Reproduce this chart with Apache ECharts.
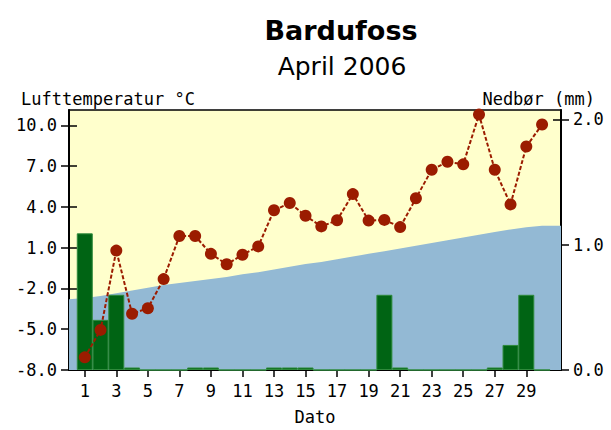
<!DOCTYPE html>
<html>
<head>
<meta charset="utf-8">
<script src="https://cdn.jsdelivr.net/npm/echarts@6/dist/echarts.min.js"></script>
<style>html,body{margin:0;padding:0;background:#fff;}#c{width:611px;height:430px;}</style>
</head>
<body>
<div id="c"></div>
<script>
// ---- data ----
const days = [1,2,3,4,5,6,7,8,9,10,11,12,13,14,15,16,17,18,19,20,21,22,23,24,25,26,27,28,29,30];
const temperature = [-7.07,-5.05,0.79,-3.86,-3.45,-1.31,1.86,1.86,0.55,-0.22,0.48,1.1,3.76,4.29,3.35,2.57,3.02,4.95,3.0,3.05,2.52,4.64,6.74,7.33,7.14,10.8,6.74,4.19,8.45,10.07];
const precipitation = [1.09,0.4,0.6,0.02,0,0,0,0.02,0.02,0,0,0,0.02,0.02,0.02,0,0,0,0,0.6,0.02,0,0,0,0,0,0.02,0.2,0.6,0];
const normalDays = [0,1,2,3,4,5,6,7,8,9,10,11,12,13,14,15,16,17,18,19,20,21,22,23,24,25,26,27,28,29,30,31,32];
const normalTemp = [-2.8,-2.7,-2.55,-2.35,-2.15,-1.95,-1.75,-1.6,-1.45,-1.3,-1.15,-0.95,-0.8,-0.6,-0.4,-0.2,-0.05,0.15,0.35,0.55,0.75,0.95,1.15,1.35,1.55,1.75,1.95,2.15,2.35,2.5,2.62,2.62,2.62];
const dayTicks = [1,3,5,7,9,11,13,15,17,19,21,23,25,27,29];
const tempTicks = [-8,-5,-2,1,4,7,10];
const precipTicks = [0,1,2];

const MONO = '"DejaVu Sans Mono", monospace';
const SANS = '"DejaVu Sans", sans-serif';
const black = '#000';

const chart = echarts.init(document.getElementById('c'), null, {renderer: 'svg'});

const xBase = {type: 'value', min: 0, max: 31.2, splitLine: {show: false}};
const yLeftBase = {type: 'value', min: -8, max: 11.14, position: 'left', splitLine: {show: false}};
const yRightBase = {type: 'value', min: 0, max: 2.074, position: 'right', splitLine: {show: false}};
const tickStyle = {color: black, width: 1.5};

chart.setOption({
  animation: false,
  backgroundColor: '#fff',
  title: [
    {text: 'Bardufoss', left: 336, top: 12, textAlign: 'center',
     textStyle: {fontFamily: SANS, fontWeight: 'bold', fontSize: 27, color: black}},
    {text: 'April 2006', left: 337, top: 49, textAlign: 'center',
     textStyle: {fontFamily: SANS, fontWeight: 'normal', fontSize: 25, color: black}},
    {text: 'Lufttemperatur °C', left: 16, top: 85,
     textStyle: {fontFamily: MONO, fontWeight: 'normal', fontSize: 17, color: black}},
    {text: 'Nedbør (mm)', right: 11, top: 85,
     textStyle: {fontFamily: MONO, fontWeight: 'normal', fontSize: 17, color: black}}
  ],
  grid: {left: 69, right: 50, top: 110, bottom: 52, show: true,
         backgroundColor: '#ffffcc', borderColor: black, borderWidth: 1.5},
  xAxis: [
    Object.assign({}, xBase, {
      position: 'bottom',
      name: 'Dato', nameLocation: 'middle', nameGap: 38,
      nameTextStyle: {fontFamily: MONO, fontSize: 17, color: black},
      axisLine: {show: true, onZero: false, lineStyle: {color: black, width: 2}},
      axisTick: {show: true, length: 7, customValues: dayTicks, lineStyle: tickStyle},
      axisLabel: {show: true, customValues: dayTicks, margin: 12,
                  fontFamily: MONO, fontSize: 17, color: black}
    }),
    Object.assign({}, xBase, {
      position: 'bottom',
      axisLine: {show: false, onZero: false},
      axisTick: {show: true, inside: true, length: 7, customValues: dayTicks, lineStyle: tickStyle},
      axisLabel: {show: false}
    })
  ],
  yAxis: [
    Object.assign({}, yLeftBase, {
      axisLine: {show: true, onZero: false, lineStyle: {color: black, width: 2}},
      axisTick: {show: true, length: 8, customValues: tempTicks, lineStyle: tickStyle},
      axisLabel: {show: true, customValues: tempTicks, margin: 12,
                  fontFamily: MONO, fontSize: 17, color: black,
                  formatter: v => v.toFixed(1)}
    }),
    Object.assign({}, yRightBase, {
      axisLine: {show: true, onZero: false, lineStyle: {color: black, width: 2}},
      axisTick: {show: true, length: 8, customValues: precipTicks, lineStyle: tickStyle},
      axisLabel: {show: true, customValues: precipTicks, margin: 12,
                  fontFamily: MONO, fontSize: 17, color: black,
                  formatter: v => v.toFixed(1)}
    }),
    Object.assign({}, yLeftBase, {
      axisLine: {show: false, onZero: false},
      axisTick: {show: true, inside: true, length: 8, customValues: tempTicks, lineStyle: tickStyle},
      axisLabel: {show: false}
    }),
    Object.assign({}, yRightBase, {
      axisLine: {show: false, onZero: false},
      axisTick: {show: true, inside: true, length: 8, customValues: precipTicks, lineStyle: tickStyle},
      axisLabel: {show: false}
    })
  ],
  series: [
    {
      name: 'Normal', type: 'line', xAxisIndex: 0, yAxisIndex: 0, z: 1,
      data: normalDays.map((d, i) => [d, normalTemp[i]]),
      showSymbol: false, symbol: 'none', clip: true,
      lineStyle: {width: 0, color: '#93b9d4'},
      areaStyle: {color: '#93b9d4', opacity: 1, origin: 'start'}
    },
    {
      name: 'Nedbør', type: 'bar', xAxisIndex: 0, yAxisIndex: 1, z: 2,
      data: days.map((d, i) => [d, precipitation[i]]),
      barWidth: 16,
      itemStyle: {color: '#006414', borderColor: '#2f8a3c', borderWidth: 1}
    },
    {
      name: 'Temperatur', type: 'line', xAxisIndex: 0, yAxisIndex: 0, z: 3,
      data: days.map((d, i) => [d, temperature[i]]),
      symbol: 'circle', symbolSize: 12, clip: false,
      lineStyle: {color: '#9b1c00', width: 2, type: [4, 2]},
      itemStyle: {color: '#9b1c00'}
    }
  ]
});
</script>
</body>
</html>
